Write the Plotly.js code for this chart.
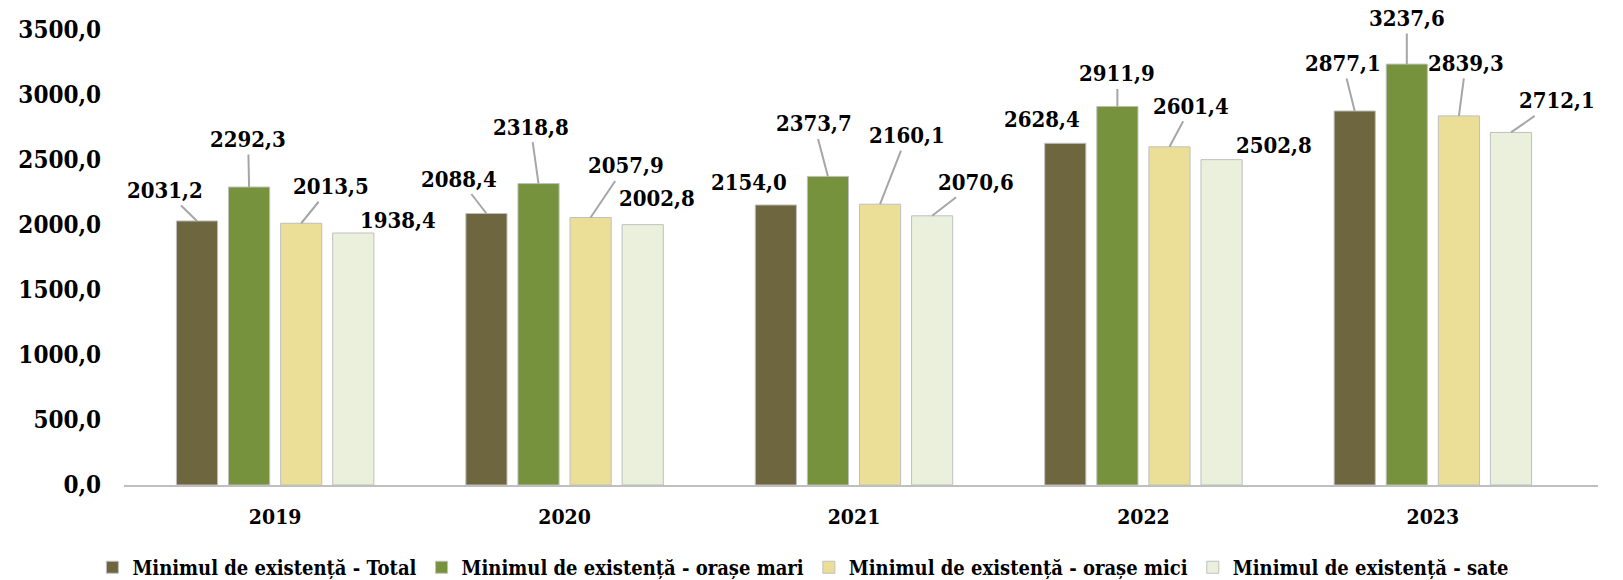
<!DOCTYPE html>
<html>
<head>
<meta charset="utf-8">
<script src="https://cdn.plot.ly/plotly-3.0.1.min.js"></script>
<style>html,body{margin:0;padding:0;background:#fff;}#chart{width:1623px;height:580px;}</style>
</head>
<body>
<div id="chart"></div>
<script>
const years = ['2019', '2020', '2021', '2022', '2023'];
const seriesNames = [
  'Minimul de existență - Total',
  'Minimul de existență - orașe mari',
  'Minimul de existență - orașe mici',
  'Minimul de existență - sate'
];
const total = [2031.2, 2088.4, 2154.0, 2628.4, 2877.1];
const oraseMari = [2292.3, 2318.8, 2373.7, 2911.9, 3237.6];
const oraseMici = [2013.5, 2057.9, 2160.1, 2601.4, 2839.3];
const sate = [1938.4, 2002.8, 2070.6, 2502.8, 2712.1];
const yTicks = [0, 500, 1000, 1500, 2000, 2500, 3000, 3500];

// styling / label placement (pixel offsets of each value label from its bar top)
const colors = ['#6E663F', '#76923C', '#EBDF97', '#EAF0DC'];
const labelOffsets = [
  [[-32, -31, 1], [-27, -35, 1], [-27, -23, 0], [-23, -24, 0], [-12, -48, 1]],
  [[-1, -48, 1], [-8, -57, 1], [-14, -53, 1], [0, -33, 1], [0, -46, 1]],
  [[30, -37, 1], [35, -52, 1], [27, -69, 1], [22, -41, 1], [7, -53, 1]],
  [[45, -13, 0], [14, -27, 0], [44, -34, 1], [52, -15, 0], [46, -32, 1]]
];

const FONT = 'DejaVu Serif Condensed, DejaVu Serif, serif';
const series = [total, oraseMari, oraseMici, sate];
const bargap = 0.28;
const slot = (1 - bargap) / series.length;

const fmt = v => v.toFixed(1).replace('.', ',');

const traces = series.map((vals, s) => ({
  type: 'bar',
  name: seriesNames[s],
  x: years,
  y: vals,
  marker: { color: colors[s], line: { color: '#BFBFBF', width: 1 } },
  hoverinfo: 'skip'
}));

const annotations = [];
series.forEach((vals, s) => {
  vals.forEach((v, i) => {
    const off = labelOffsets[s][i];
    const a = {
      x: i + (s - (series.length - 1) / 2) * slot,
      y: v,
      xref: 'x', yref: 'y',
      text: fmt(v),
      font: { family: FONT, size: 22, color: '#000', weight: 'bold' },
      borderpad: 2
    };
    if (off[2]) {
      Object.assign(a, { showarrow: true, ax: off[0], ay: off[1], arrowhead: 0, arrowwidth: 2, arrowcolor: '#A6A6A6', standoff: 0 });
    } else {
      Object.assign(a, { showarrow: false, xshift: off[0], yshift: -off[1] });
    }
    annotations.push(a);
  });
});

const layout = {
  width: 1623,
  height: 580,
  margin: { l: 124, r: 25, t: 30, b: 95 },
  paper_bgcolor: '#fff',
  plot_bgcolor: '#fff',
  barmode: 'group',
  bargap: bargap,
  bargroupgap: 0.21,
  separators: ', ',
  showlegend: true,
  legend: {
    orientation: 'h',
    xref: 'container', yref: 'container',
    x: 0.495, xanchor: 'center',
    y: 0.022, yanchor: 'middle',
    font: { family: FONT, size: 20, color: '#000', weight: 'bold' },
    traceorder: 'normal'
  },
  xaxis: {
    type: 'category',
    showgrid: false,
    showline: true,
    linecolor: '#BFBFBF',
    linewidth: 2,
    ticks: '',
    ticklabelstandoff: 12,
    tickfont: { family: FONT, size: 21, color: '#000', weight: 'bold' },
    zeroline: false
  },
  yaxis: {
    range: [0, 3500],
    tickvals: yTicks,
    tickformat: '.1f',
    showgrid: false,
    zeroline: false,
    showline: false,
    ticks: '',
    ticklabelstandoff: 22,
    tickfont: { family: FONT, size: 24, color: '#000', weight: 'bold' }
  },
  annotations: annotations
};

Plotly.newPlot('chart', traces, layout, { staticPlot: true, displayModeBar: false });
</script>
</body>
</html>
